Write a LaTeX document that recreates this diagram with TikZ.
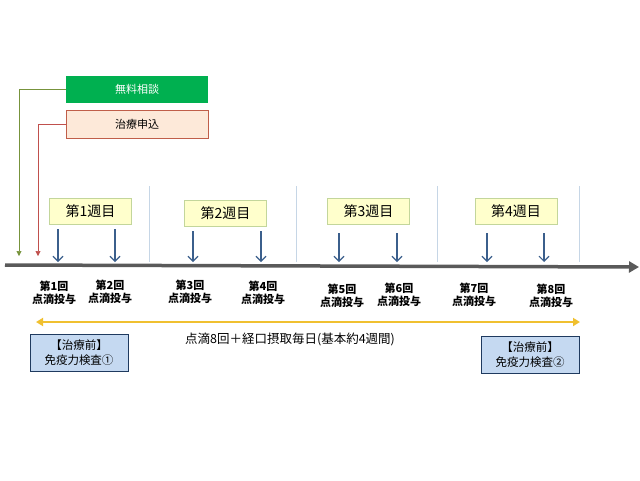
\documentclass[tikz,border=0pt]{standalone}
\usepackage{fontspec}
\setmainfont{Noto Sans CJK JP}
\usetikzlibrary{arrows.meta}
\definecolor{consultfill}{HTML}{00B050}
\definecolor{consultline}{HTML}{77933C}
\definecolor{applyfill}{HTML}{FDE9D9}
\definecolor{applyline}{HTML}{C0504D}
\definecolor{weekfill}{HTML}{FFFFCC}
\definecolor{weekline}{HTML}{C3D69B}
\definecolor{doseblue}{HTML}{3B5F8C}
\definecolor{sepline}{HTML}{C6D6E6}
\definecolor{axisgray}{HTML}{5A5A5A}
\definecolor{spanyellow}{HTML}{F0C030}
\definecolor{testfill}{HTML}{C5D9F1}
\definecolor{testline}{HTML}{1F3A5F}
\begin{document}
\begin{tikzpicture}[x=1pt,y=-1pt,
    topbox/.style={minimum width=142pt,minimum height=27pt,inner sep=0pt,font=\fontsize{11}{12}\selectfont},
    week/.style={draw=weekline,fill=weekfill,minimum width=82pt,minimum height=26pt,inner sep=0pt,font=\fontsize{14}{14}\selectfont},
    dose/.style={draw=doseblue,line width=1.1pt,-{Straight Barb[length=5pt,width=10pt]}},
    doselabel/.style={align=center,inner sep=0pt,font=\fontsize{11}{13.5}\selectfont\bfseries},
    test/.style={draw=testline,fill=testfill,minimum width=98pt,minimum height=37pt,inner sep=0pt,align=center,font=\fontsize{11.5}{15}\selectfont}]
\useasboundingbox (0,0) rectangle (640,480);
% top boxes and their leads
\node[topbox,fill=consultfill,text=white] (consult) at (137,89.5) {無料相談};
\node[topbox,draw=applyline!70!brown,fill=applyfill,minimum height=28pt] (apply) at (137,124) {治療申込};
\coordinate (consultend) at (19,256);
\coordinate (applyend) at (38,256);
\draw[consultline,line width=0.6pt,-{Triangle[length=5pt,width=5pt]}] (consult.west) -| (consultend);
\draw[applyline,line width=0.6pt,-{Triangle[length=5pt,width=5pt]}] (apply.west) -| (applyend);
% week separators
\foreach \x in {149,296,437,579}
    \draw[sepline,line width=0.6pt] (\x,186) -- (\x,262);
% timeline
\coordinate (axisstart) at (5,265);
\coordinate (axisend) at (639,267);
\draw[axisgray,line width=3.5pt,-{Triangle[length=10pt,width=11pt]}] (axisstart) -- (axisend);
% weeks
\node[week] (w1) at (90.5,211) {第1週目};
\node[week] (w2) at (225.5,213) {第2週目};
\node[week] (w3) at (368.5,211) {第3週目};
\node[week] (w4) at (516,211) {第4週目};
% doses
\foreach \n/\x/\y/\lx/\ly in {1/58/229/54/293,2/115/229/110/292,3/193/231/190/292,4/261/231/263/293,
        5/339/233/342/296,6/397/233/399/295,7/487/233/474/295,8/544/233/551/296}{
    \coordinate (d\n) at (\x,\y);
    \coordinate (t\n) at (\x,262);
    \draw[dose] (d\n) -- (t\n);
    \node[doselabel] (l\n) at (\lx,\ly) {第\n 回\\点滴投与};
}
% span of treatment
\coordinate (spanleft) at (36,322);
\coordinate (spanright) at (580,322);
\draw[spanyellow,line width=2.5pt,{Triangle[length=7pt,width=8pt]}-{Triangle[length=7pt,width=8pt]}] (spanleft) -- (spanright);
\node[font=\fontsize{12.5}{14}\selectfont] (span) at (290,339) {点滴8回＋経口摂取毎日(基本約4週間)};
% tests
\node[test] (test1) at (79,352.5) {【治療前】\\免疫力検査①};
\node[test] (test2) at (530,354.5) {【治療前】\\免疫力検査②};
\end{tikzpicture}
\end{document}
